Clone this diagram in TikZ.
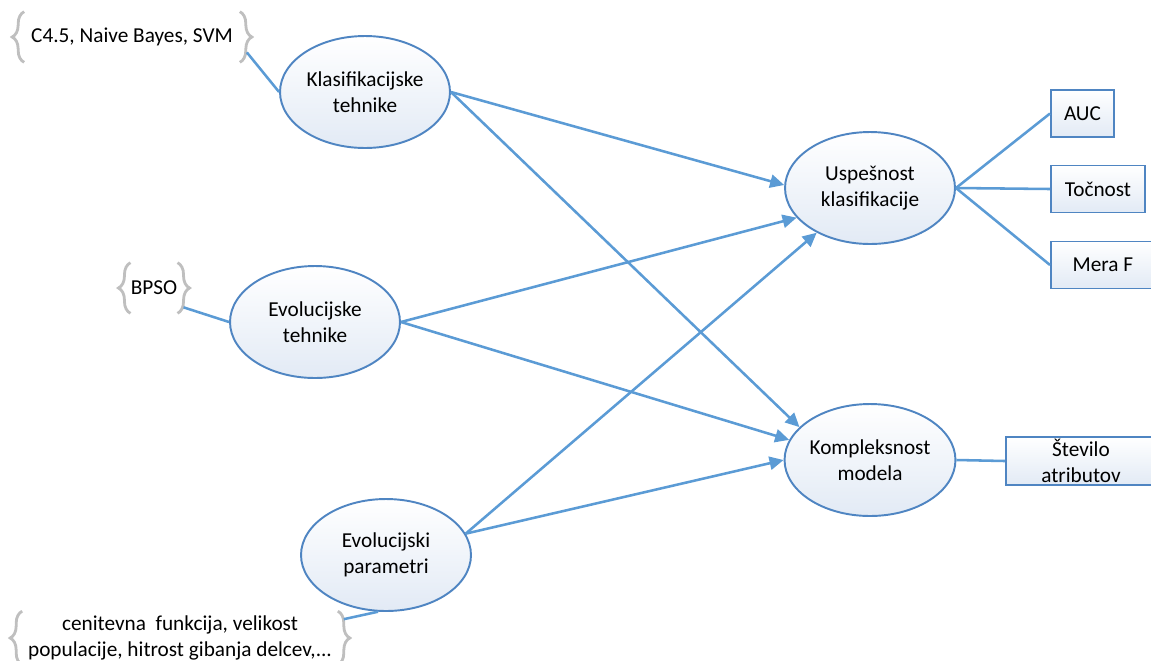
\documentclass[tikz,border=0pt]{standalone}
\usepackage{fontspec}
\setmainfont{Carlito}
\usepackage{tikz}
\usetikzlibrary{arrows.meta,positioning,shapes.geometric,decorations.pathreplacing}
\definecolor{linkblue}{HTML}{5B9BD5}
\definecolor{edgeblue}{HTML}{4F85C2}
\definecolor{paleblue}{HTML}{E2EAF5}
\definecolor{bracegray}{HTML}{BFBFBF}
\newcommand{\mainsize}{\fontsize{12.1}{14.6}\selectfont}
\tikzset{
  concept/.style={
    ellipse, draw=edgeblue, line width=1.1pt,
    top color=white, bottom color=paleblue,
    minimum width=3.4cm, minimum height=2.24cm,
    font=\mainsize, align=center, inner sep=0pt
  },
  metric/.style={
    rectangle, draw=edgeblue, line width=1.1pt,
    top color=white, bottom color=paleblue,
    minimum height=0.94cm, anchor=west,
    font=\mainsize, align=center, inner sep=0pt
  },
  notebox/.style={rectangle, minimum height=1.0cm,
    font=\mainsize, align=center, inner sep=0pt},
  bracket/.style={draw=bracegray, line width=1.6pt, decorate,
    decoration={brace, amplitude=0.24cm}},
  link/.style={draw=linkblue, line width=1.45pt},
  influence/.style={link, -{Triangle[length=8pt,width=7.5pt]}},
}

\begin{document}
\begin{tikzpicture}[x=0.02cm, y=-0.02cm]
\useasboundingbox (0,0) rectangle (1151,660);
\clip (0,0) rectangle (1151,660);
\node[concept] (klas) at (365,92) {Klasifikacijske\\tehnike};
\node[concept] (evol) at (315,322) {Evolucijske\\tehnike};
\node[concept] (param) at (386,555) {Evolucijski\\parametri};
\node[concept] (usp) at (870,188) {Uspešnost\\klasifikacije};
\node[concept] (kompl) at (870,460) {Kompleksnost\\modela};
\node[notebox, minimum width=4.3cm] (algs) at (132,37) {C4.5, Naive Bayes, SVM};
\node[notebox, minimum width=0.84cm] (bpso) at (154,288) {BPSO};
\node[notebox, minimum width=6.3cm, minimum height=1.06cm] (params) at (180,638)
  {cenitevna\ \ funkcija, velikost\\populacije, hitrost gibanja delcev,...};
\node[metric, minimum width=1.26cm] (auc) at (1050,113.5) {AUC};
\node[metric, minimum width=1.88cm] (tocn) at (1050,189) {Točnost};
\node[metric, minimum width=2.08cm] (meraf) at (1050,265) {Mera F};
\node[metric, minimum width=3.0cm, minimum height=0.96cm] (stev) at (1005,461) {Število\\atributov};
\foreach \n in {algs,bpso,params}{
  \draw[bracket] (\n.south west) -- (\n.north west);
  \draw[bracket] (\n.north east) -- (\n.south east);
}
\draw[link] ([shift={(7,-10)}]algs.south east) -- (klas.west);
\draw[link] ([shift={(6,-6)}]bpso.south east) -- (evol.west);
\draw[link] ([shift={(6,8)}]params.north east) -- (param.-98);
\draw[influence] (klas.east) -- (usp.178);
\draw[influence] (klas.east) -- (kompl.155);
\draw[influence] (evol.east) -- (usp.202);
\draw[influence] (evol.east) -- (kompl.166);
\draw[influence] (param.15) -- (usp.220);
\draw[influence] (param.15) -- (kompl.180);
\draw[link] (usp.east) -- (auc.west);
\draw[link] (usp.east) -- (tocn.west);
\draw[link] (usp.east) -- (meraf.west);
\draw[link] (kompl.east) -- (stev.west);
\end{tikzpicture}
\end{document}
